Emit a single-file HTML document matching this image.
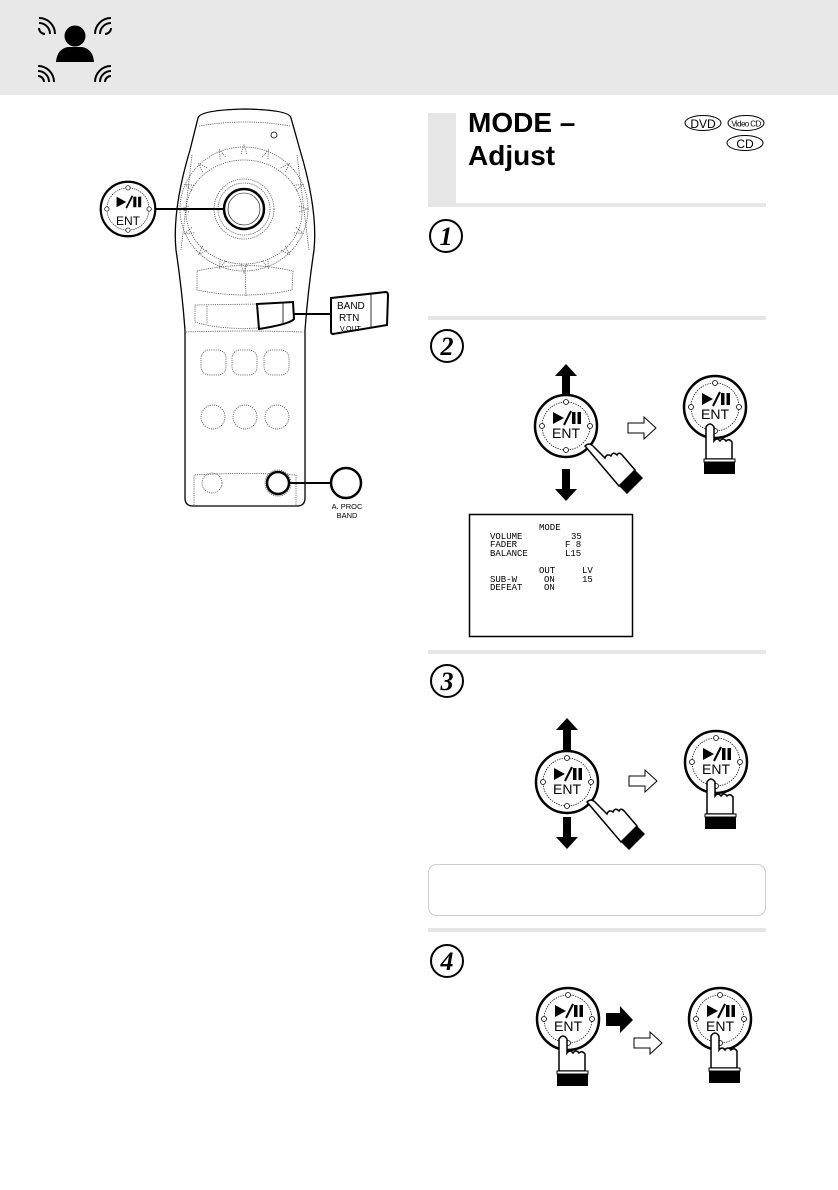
<!DOCTYPE html>
<html><head><meta charset="utf-8"><style>
html,body{margin:0;padding:0;background:#fff}
svg{display:block}
</style></head><body>
<svg width="838" height="1190" viewBox="0 0 838 1190" xmlns="http://www.w3.org/2000/svg" font-family="Liberation Sans, sans-serif">
<defs>
<g id="pp"><path d="M-13,-6 L-2,0 L-13,6 Z" fill="#000"/><path d="M-2,7 L5,-7" stroke="#000" stroke-width="2"/><rect x="6" y="-6" width="3.5" height="12" fill="#000"/><rect x="11.5" y="-6" width="3.5" height="12" fill="#000"/></g>
<g id="btn"><circle r="31" fill="#fff" stroke="#000" stroke-width="2.5"/><circle r="24" fill="none" stroke="#000" stroke-width="0.7" stroke-dasharray="1.5,1"/>
<circle cx="0" cy="-24" r="2.5" fill="#fff" stroke="#000" stroke-width="0.8"/><circle cx="0" cy="24" r="2.5" fill="#fff" stroke="#000" stroke-width="0.8"/><circle cx="-24" cy="0" r="2.5" fill="#fff" stroke="#000" stroke-width="0.8"/><circle cx="24" cy="0" r="2.5" fill="#fff" stroke="#000" stroke-width="0.8"/>
<use href="#pp" y="-8"/></g>
<g id="handv"><path d="M-9,20 Q-5,14 -1,20 L-1,34 Q2,30 5,34 Q8,30 11,34 Q14,31 17,35 L17,52 L-9,52 Z" fill="#fff" stroke="#000" stroke-width="1.5"/><rect x="-11" y="52" width="31" height="3" fill="#fff" stroke="#000" stroke-width="1"/><rect x="-11" y="55" width="31" height="12" fill="#000"/></g>
<g id="handd"><path d="M0,0 Q4,-4 8,0 L20,12 Q22,7 26,10 Q28,5 32,9 Q34,5 38,10 L50,24 L34,40 Z" fill="#fff" stroke="#000" stroke-width="1.5"/><path d="M34,40 L50,24 L58,32 L42,48 Z" fill="#000"/></g>
<path id="oarr" d="M0,-5 L16,-5 L16,-11 L28,0 L16,11 L16,5 L0,5 Z" fill="#fff" stroke="#000" stroke-width="1"/>
<path id="uarr" d="M0,-16 L11,-4 L4,-4 L4,16 L-4,16 L-4,-4 L-11,-4 Z" fill="#000"/>
<path id="tick" d="M241,154 L244,145 L247,154" fill="none" stroke="#555" stroke-width="0.8" stroke-dasharray="1.2,1"/>
</defs>
<rect x="0" y="0" width="838" height="95" fill="#e8e8e8"/>
<!-- person icon -->
<circle cx="75" cy="36" r="10.5" fill="#000"/>
<path d="M56,62 Q57,49 68,47 L82,47 Q93,49 94,62 Z" fill="#000"/>
<g fill="none" stroke="#000" stroke-width="2">
<path d="M39,28 A6,6 0 0 0 45,34"/><path d="M39,23 A11,11 0 0 1 50,34" transform="rotate(0)"/><path d="M39,18 A16,16 0 0 1 55,34"/>
<path d="M111,28 A6,6 0 0 1 105,34"/><path d="M111,23 A11,11 0 0 0 100,34"/><path d="M111,18 A16,16 0 0 0 95,34"/>
<path d="M38,76 A6,6 0 0 1 44,82"/><path d="M38,71 A11,11 0 0 1 49,82"/><path d="M38,66 A16,16 0 0 1 54,82"/>
<path d="M111,76 A6,6 0 0 0 105,82"/><path d="M111,71 A11,11 0 0 0 100,82"/><path d="M111,66 A16,16 0 0 0 95,82"/>
</g>
<!-- remote -->
<path d="M198,118 Q200,110 245,109 Q290,110 291,118 L300,150 Q318,210 314,250 Q308,290 305,330 L305,498 Q305,506 297,506 L193,506 Q185,506 185,498 L185,330 Q182,290 176,250 Q172,210 190,150 Z" fill="#fff" stroke="#000" stroke-width="1.3"/>
<g fill="none" stroke="#555" stroke-width="0.8" stroke-dasharray="1.2,1">
<path d="M199,126 Q245,118 290,126"/>
<path d="M192,155 L181,250 M297,155 L309,250"/>
<ellipse cx="244" cy="209" rx="64" ry="62"/><ellipse cx="244" cy="212" rx="58" ry="52"/>
<circle cx="244" cy="209" r="30"/><circle cx="244" cy="209" r="26"/>
<path d="M197,271 Q245,260 293,271 L292,290 Q245,300 197,290 Z"/><path d="M245,266 L246,296"/>
<path d="M195,305 L258,304 L258,328 Q220,330 195,322 Z"/><path d="M207,306 L207,324"/>
<path d="M186,332 Q245,330 303,332"/>
<rect x="201" y="350" width="25" height="25" rx="8"/><rect x="232" y="350" width="25" height="25" rx="8"/><rect x="264" y="350" width="25" height="25" rx="8"/>
<circle cx="213" cy="417" r="12"/><circle cx="245" cy="417" r="12"/><circle cx="277" cy="417" r="12"/>
<circle cx="212" cy="483" r="10"/><circle cx="278" cy="483" r="13"/>
<path d="M194,505 L194,475 Q245,472 296,475 L296,505"/>
</g>
<use href="#tick"/><use href="#tick" transform="rotate(22.5 244 209)"/><use href="#tick" transform="rotate(45 244 209)"/><use href="#tick" transform="rotate(67.5 244 209)"/><use href="#tick" transform="rotate(90 244 209)"/><use href="#tick" transform="rotate(112.5 244 209)"/><use href="#tick" transform="rotate(135 244 209)"/><use href="#tick" transform="rotate(157.5 244 209)"/><use href="#tick" transform="rotate(180 244 209)"/><use href="#tick" transform="rotate(202.5 244 209)"/><use href="#tick" transform="rotate(225 244 209)"/><use href="#tick" transform="rotate(247.5 244 209)"/><use href="#tick" transform="rotate(270 244 209)"/><use href="#tick" transform="rotate(292.5 244 209)"/><use href="#tick" transform="rotate(315 244 209)"/><use href="#tick" transform="rotate(337.5 244 209)"/>
<circle cx="274" cy="135" r="3" fill="none" stroke="#000" stroke-width="0.8"/>
<circle cx="244" cy="209" r="20" fill="#fff" stroke="#000" stroke-width="2.5"/>
<circle cx="244" cy="209" r="16" fill="none" stroke="#000" stroke-width="0.6"/>
<path d="M257,304 L293,302 L294,319 Q290,324 259,329 Z" fill="#fff" stroke="#000" stroke-width="2"/><path d="M283,303 L283,323" stroke="#000" stroke-width="0.8"/>
<circle cx="278" cy="483" r="11" fill="#fff" stroke="#000" stroke-width="2.5"/>
<!-- callouts -->
<line x1="156" y1="209" x2="225" y2="209" stroke="#000" stroke-width="2"/>
<use href="#btn" transform="translate(128,209) scale(0.88)"/>
<text x="128" y="225" font-size="12" text-anchor="middle">ENT</text>
<line x1="294" y1="314" x2="332" y2="314" stroke="#000" stroke-width="2"/>
<path d="M331,298 L386,292 Q388,292 388,296 L387,325 L333,334 Q331,334 331,331 Z" fill="#fff" stroke="#000" stroke-width="2"/>
<line x1="371" y1="294" x2="371" y2="328" stroke="#000" stroke-width="0.8"/>
<text x="337" y="309" font-size="10">BAND</text><text x="339" y="321" font-size="10">RTN</text><text x="340" y="331" font-size="7">V.OUT</text>
<line x1="289" y1="483" x2="331" y2="483" stroke="#000" stroke-width="2"/>
<circle cx="346" cy="483" r="15" fill="#fff" stroke="#000" stroke-width="2.5"/>
<text x="347" y="509" font-size="7.5" text-anchor="middle">A. PROC</text><text x="347" y="518" font-size="7.5" text-anchor="middle">BAND</text>
<!-- title -->
<rect x="428" y="113" width="28" height="93" fill="#e6e6e6"/><rect x="428" y="203" width="338" height="4" fill="#e6e6e6"/>
<text x="468" y="132" font-size="28" font-weight="bold">MODE –</text>
<text x="468" y="165" font-size="28" font-weight="bold">Adjust</text>
<ellipse cx="703" cy="123" rx="18" ry="7.5" fill="none" stroke="#000" stroke-width="1"/><text x="703" y="128" font-size="12" text-anchor="middle">DVD</text>
<ellipse cx="746" cy="123" rx="18" ry="7.5" fill="none" stroke="#000" stroke-width="1"/><text x="746" y="126.5" font-size="8" text-anchor="middle" letter-spacing="-0.6">Video CD</text>
<ellipse cx="745" cy="143" rx="18" ry="7.5" fill="none" stroke="#000" stroke-width="1"/><text x="745" y="148" font-size="12" text-anchor="middle">CD</text>
<!-- step numbers -->
<g style="font-family:'Liberation Serif',serif;font-style:italic;font-weight:bold;font-size:26px" text-anchor="middle">
<circle cx="446" cy="236" r="16" fill="none" stroke="#000" stroke-width="2"/><text x="446" y="245">1</text>
<circle cx="447" cy="346" r="16" fill="none" stroke="#000" stroke-width="2"/><text x="447" y="355">2</text>
<circle cx="447" cy="681" r="16" fill="none" stroke="#000" stroke-width="2"/><text x="447" y="690">3</text>
<circle cx="447" cy="961" r="16" fill="none" stroke="#000" stroke-width="2"/><text x="447" y="970">4</text>
</g>
<rect x="428" y="316" width="338" height="4" fill="#e6e6e6"/>
<rect x="428" y="650" width="338" height="4" fill="#e6e6e6"/>
<rect x="428" y="928" width="338" height="4" fill="#e6e6e6"/>
<rect x="428.5" y="864.5" width="337" height="51" rx="8" fill="#fff" stroke="#ccc" stroke-width="1"/>
<!-- step2 -->
<use href="#uarr" x="566" y="380"/><use href="#uarr" transform="translate(566,485) rotate(180)"/>
<use href="#btn" x="566" y="426"/><text x="566" y="438" font-size="14" text-anchor="middle">ENT</text>
<use href="#handd" x="585" y="446"/>
<use href="#oarr" x="628" y="428"/>
<use href="#btn" x="715" y="407"/><text x="715" y="419" font-size="14" text-anchor="middle">ENT</text>
<use href="#handv" x="715" y="407"/>
<rect x="469.5" y="514.5" width="163" height="122" fill="#fff" stroke="#000" stroke-width="1.5"/>
<g style="font-family:'Liberation Mono',monospace;font-size:9px" fill="#000">
<text x="539" y="530">MODE</text>
<text x="490" y="539">VOLUME</text><text x="571" y="539">35</text>
<text x="490" y="547">FADER</text><text x="565" y="547">F 8</text>
<text x="490" y="556">BALANCE</text><text x="565" y="556">L15</text>
<text x="539" y="573">OUT</text><text x="582" y="573">LV</text>
<text x="490" y="582">SUB-W</text><text x="544" y="582">ON</text><text x="582" y="582">15</text>
<text x="490" y="590">DEFEAT</text><text x="544" y="590">ON</text>
</g>
<!-- step3 -->
<use href="#uarr" x="567" y="734"/><use href="#uarr" transform="translate(567,833) rotate(180)"/>
<use href="#btn" x="567" y="782"/><text x="567" y="794" font-size="14" text-anchor="middle">ENT</text>
<use href="#handd" x="587" y="802"/>
<use href="#oarr" x="629" y="781"/>
<use href="#btn" x="716" y="762"/><text x="716" y="774" font-size="14" text-anchor="middle">ENT</text>
<use href="#handv" x="716" y="762"/>
<!-- step4 -->
<use href="#btn" x="568" y="1019"/><text x="568" y="1031" font-size="14" text-anchor="middle">ENT</text>
<use href="#handv" x="568" y="1019"/>
<path d="M606,1013 L620,1013 L620,1006 L633,1020 L620,1033 L620,1026 L606,1026 Z" fill="#000"/>
<use href="#oarr" x="634" y="1043"/>
<use href="#btn" x="720" y="1019"/><text x="720" y="1031" font-size="14" text-anchor="middle">ENT</text>
<use href="#handv" x="720" y="1016"/>
</svg>
</body></html>
